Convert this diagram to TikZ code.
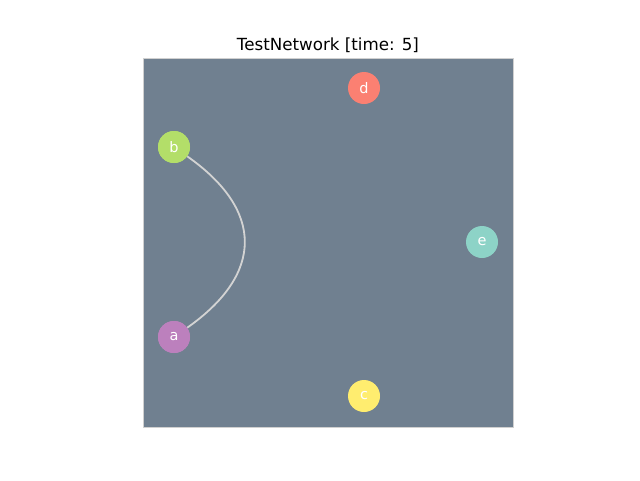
\documentclass[tikz,border=0pt]{standalone}
\usepackage{fontspec}
\setmainfont{DejaVu Sans}
\definecolor{bgslate}{HTML}{708090}
\definecolor{framegray}{HTML}{D0D0D0}
\definecolor{edgegray}{HTML}{D3D3D3}
\definecolor{na}{HTML}{BC80BD}
\definecolor{nb}{HTML}{B3DE69}
\definecolor{nc}{HTML}{FFED6F}
\definecolor{nd}{HTML}{FB8072}
\definecolor{ne}{HTML}{8DD3C7}
\tikzset{
  vert/.style={circle, minimum size=32pt, inner sep=0pt, fill=#1, text=white, font=\fontsize{14.5}{15}\selectfont},
  link/.style={draw=edgegray, line width=1.8pt},
}
\begin{document}
\begin{tikzpicture}[x=1pt, y=-1pt]
\useasboundingbox (0,0) rectangle (640,480);
\fill[white] (0,0) rectangle (640,480);
\node[font=\fontsize{16.7}{18}\selectfont, anchor=base] (title) at (328,50) {TestNetwork [time: 5]};
\draw[framegray, fill=bgslate, line width=1pt] (143.5,58.5) rectangle (513,427);
\node[vert=nd] (d) at (364,88) {d};
\node[vert=nb] (b) at (174,147) {b};
\node[vert=ne] (e) at (482,242) {e};
\node[vert=na] (a) at (174,337) {a};
\node[vert=nc] (c) at (364,396) {c};
\draw[link] (b) .. controls (264,210.3) and (264,273.7) .. (a);
\node[vert=nb] at (b) {b};
\node[vert=na] at (a) {a};
\end{tikzpicture}
\end{document}
